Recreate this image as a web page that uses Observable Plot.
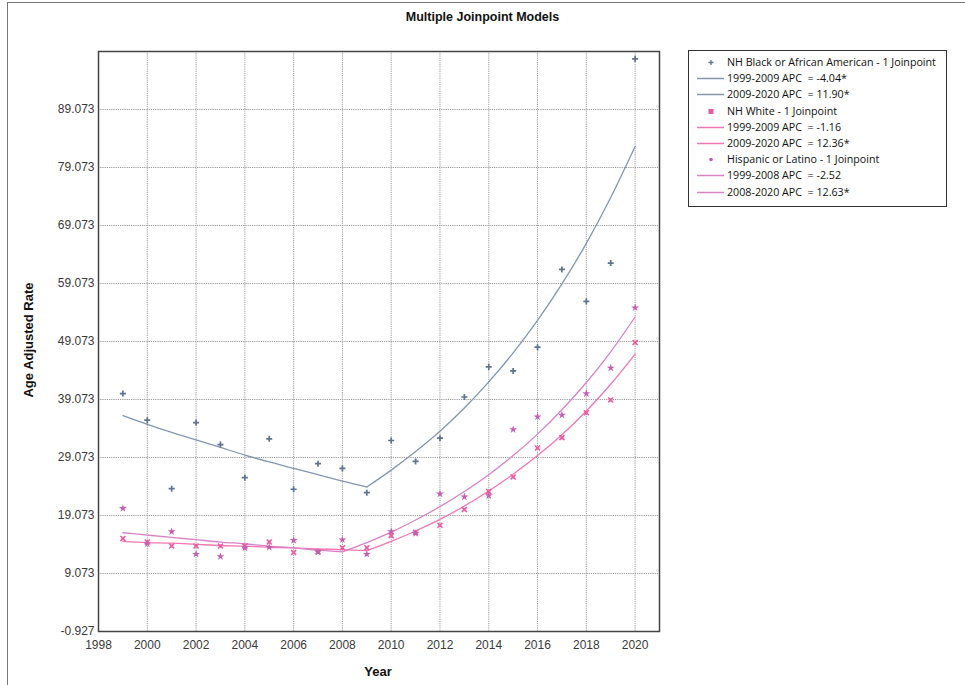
<!DOCTYPE html>
<html>
<head>
<meta charset="utf-8">
<script src="https://cdn.jsdelivr.net/npm/d3@7"></script>
<script src="https://cdn.jsdelivr.net/npm/@observablehq/plot@0.6"></script>
<style>
  html, body { margin: 0; padding: 0; background: #fff; }
  #wrap { position: relative; width: 965px; height: 685px; overflow: hidden; font-family: "Liberation Sans", Arial, sans-serif; }
  #outer { position: absolute; left: 7px; top: 2px; width: 1000px; height: 720px; border-left: 1px solid #777; border-top: 1px solid #777; }
  #title { position: absolute; left: 0; width: 965px; top: 10px; text-align: center; font-weight: bold; font-size: 12.5px; color: #111; }
  #ylab { position: absolute; left: 28px; top: 340px; transform: translate(-50%, -50%) rotate(-90deg); font-weight: bold; font-size: 13px; color: #111; white-space: nowrap; }
  #xlab { position: absolute; left: 378px; top: 671px; transform: translate(-50%, -50%); font-weight: bold; font-size: 13px; color: #111; }
  #legend { position: absolute; left: 688px; top: 50px; width: 257px; height: 155px; border: 1.5px solid #333; background: #fff; }
  .row { position: absolute; left: 0; height: 16px; font-size: 10.7px; color: #111; white-space: pre; font-family: "Open Sans", "Liberation Sans", sans-serif; }
  .row span.t { position: absolute; left: 38px; top: 0; line-height: 16px; }
  .row svg { position: absolute; left: 8px; top: 0; }
  #plot { position: absolute; left: 0; top: 0; }
</style>
</head>
<body>
<div id="wrap">
  <div id="outer"></div>
  <div id="plot"></div>
  <div id="title">Multiple Joinpoint Models</div>
  <div id="ylab">Age Adjusted Rate</div>
  <div id="xlab">Year</div>
  <div id="legend"></div>
</div>
<script>
// ---- data ----
const years = [1999, 2000, 2001, 2002, 2003, 2004, 2005, 2006, 2007, 2008, 2009, 2010, 2011, 2012, 2013, 2014, 2015, 2016, 2017, 2018, 2019, 2020];
const blackObs = [40.1, 35.5, 23.7, 35.1, 31.3, 25.6, 32.3, 23.6, 28.0, 27.2, 23.0, 32.0, 28.4, 32.4, 39.5, 44.7, 44.0, 48.1, 61.5, 56.0, 62.6, 97.8];
const whiteObs = [15.1, 14.5, 13.8, 13.8, 13.8, 13.8, 14.5, 12.7, 12.8, 13.5, 13.5, 15.6, 16.2, 17.4, 20.1, 23.2, 25.7, 30.7, 32.5, 36.8, 39.0, 48.9];
const hispObs = [20.3, 14.2, 16.3, 12.4, 12.0, 13.5, 13.6, 14.8, 12.8, 14.9, 12.4, 16.3, 16.0, 22.8, 22.3, 22.5, 33.9, 36.1, 36.4, 40.1, 44.5, 54.9];

// fitted joinpoint segments (read per year from the drawn curves)
const blackFit1Years = [1999, 2000, 2001, 2002, 2003, 2004, 2005, 2006, 2007, 2008, 2009];
const blackFit1 = [36.3, 34.8, 33.4, 32.1, 30.8, 29.5, 28.3, 27.2, 26.1, 25.0, 24.0];
const blackFit2Years = [2009, 2010, 2011, 2012, 2013, 2014, 2015, 2016, 2017, 2018, 2019, 2020];
const blackFit2 = [24.0, 26.9, 30.1, 33.6, 37.6, 42.1, 47.1, 52.7, 59.0, 66.0, 73.9, 82.7];

const whiteFit1Years = [1999, 2000, 2001, 2002, 2003, 2004, 2005, 2006, 2007, 2008, 2009];
const whiteFit1 = [14.6, 14.4, 14.3, 14.1, 13.9, 13.8, 13.6, 13.5, 13.3, 13.2, 13.0];
const whiteFit2Years = [2009, 2010, 2011, 2012, 2013, 2014, 2015, 2016, 2017, 2018, 2019, 2020];
const whiteFit2 = [13.0, 14.6, 16.4, 18.4, 20.7, 23.3, 26.2, 29.4, 33.0, 37.1, 41.7, 46.9];

const hispFit1Years = [1999, 2000, 2001, 2002, 2003, 2004, 2005, 2006, 2007, 2008];
const hispFit1 = [16.1, 15.7, 15.3, 14.9, 14.5, 14.2, 13.8, 13.5, 13.1, 12.8];
const hispFit2Years = [2008, 2009, 2010, 2011, 2012, 2013, 2014, 2015, 2016, 2017, 2018, 2019, 2020];
const hispFit2 = [12.8, 14.4, 16.2, 18.3, 20.6, 23.2, 26.1, 29.4, 33.1, 37.3, 42.0, 47.3, 53.3];

const xTicks = [1998, 2000, 2002, 2004, 2006, 2008, 2010, 2012, 2014, 2016, 2018, 2020];
const yTicks = [-0.927, 9.073, 19.073, 29.073, 39.073, 49.073, 59.073, 69.073, 79.073, 89.073];

const legendLabels = [
  "NH Black or African American - 1 Joinpoint",
  "1999-2009 APC  = -4.04*",
  "2009-2020 APC  = 11.90*",
  "NH White - 1 Joinpoint",
  "1999-2009 APC  = -1.16",
  "2009-2020 APC  = 12.36*",
  "Hispanic or Latino - 1 Joinpoint",
  "1999-2008 APC  = -2.52",
  "2008-2020 APC  = 12.63*"
];

// ---- styling ----
const C = {
  blackPt: "#5f7390", blackLn: "#8497ad",
  whitePt: "#ec5a9e", whiteLn: "#f377b2",
  hispPt: "#c35eb3", hispLn: "#d883c6"
};

const obs = (arr, series) => years.map((y, i) => ({year: y, v: arr[i], series}));
const fit = (ys, arr, seg) => ys.map((y, i) => ({year: y, v: arr[i], seg}));

const blackPts = obs(blackObs, "black");
const whitePts = obs(whiteObs, "white");
const hispPts = obs(hispObs, "hisp");

const chart = Plot.plot({
  width: 965,
  height: 685,
  marginLeft: 98,
  marginRight: 306,
  marginTop: 51,
  marginBottom: 54,
  x: {domain: [1998, 2021]},
  y: {domain: [-0.927, 99.073]},
  style: {fontFamily: "'Liberation Sans', Arial, sans-serif", fontSize: "12px", color: "#3a3a3a", background: "transparent"},
  marks: [
    Plot.gridX(xTicks, {stroke: "#9a9a9a", strokeOpacity: 1, strokeDasharray: "1.2,1"}),
    Plot.gridY(yTicks, {stroke: "#9a9a9a", strokeOpacity: 1, strokeDasharray: "1.2,1"}),
    Plot.axisX(xTicks, {tickSize: 0, tickPadding: 9, tickFormat: d => String(d), label: null}),
    Plot.axisY(yTicks, {tickSize: 0, tickPadding: 4, tickFormat: d => d.toFixed(3), label: null}),
    // fitted lines
    Plot.line(fit(blackFit1Years, blackFit1, 1), {x: "year", y: "v", stroke: C.blackLn, strokeWidth: 1.3, curve: "monotone-x"}),
    Plot.line(fit(blackFit2Years, blackFit2, 2), {x: "year", y: "v", stroke: C.blackLn, strokeWidth: 1.3, curve: "monotone-x"}),
    Plot.line(fit(whiteFit1Years, whiteFit1, 1), {x: "year", y: "v", stroke: C.whiteLn, strokeWidth: 1.3, curve: "monotone-x"}),
    Plot.line(fit(whiteFit2Years, whiteFit2, 2), {x: "year", y: "v", stroke: C.whiteLn, strokeWidth: 1.3, curve: "monotone-x"}),
    Plot.line(fit(hispFit1Years, hispFit1, 1), {x: "year", y: "v", stroke: C.hispLn, strokeWidth: 1.3, curve: "monotone-x"}),
    Plot.line(fit(hispFit2Years, hispFit2, 2), {x: "year", y: "v", stroke: C.hispLn, strokeWidth: 1.3, curve: "monotone-x"}),
    // observed points
    Plot.dot(blackPts, {x: "year", y: "v", symbol: "plus", r: 2.1, stroke: C.blackPt, strokeWidth: 1.7}),
    Plot.dot(whitePts, {x: "year", y: "v", symbol: "square", r: 2.1, fill: C.whitePt, fillOpacity: 0.45, stroke: "none"}),
    Plot.dot(whitePts, {x: "year", y: "v", symbol: "times", r: 2.4, stroke: C.whitePt, strokeWidth: 1.5}),
    Plot.dot(hispPts, {x: "year", y: "v", symbol: "star", r: 2.5, fill: C.hispPt, stroke: "none"}),
    Plot.frame({stroke: "#444", strokeWidth: 1.5})
  ]
});
document.getElementById("plot").appendChild(chart);

// ---- legend ----
const legendKinds = [
  ["pt", "black"], ["ln", C.blackLn], ["ln", C.blackLn],
  ["pt", "white"], ["ln", C.whiteLn], ["ln", C.whiteLn],
  ["pt", "hisp"], ["ln", C.hispLn], ["ln", C.hispLn]
];
const leg = document.getElementById("legend");
legendLabels.forEach((lab, i) => {
  const row = document.createElement("div");
  row.className = "row";
  row.style.top = (3 + i * 16.2) + "px";
  const [kind, val] = legendKinds[i];
  let sym;
  if (kind === "ln") {
    sym = `<svg width="28" height="16"><line x1="0" x2="27" y1="8.5" y2="8.5" stroke="${val}" stroke-width="1.5"/></svg>`;
  } else if (val === "black") {
    sym = `<svg width="28" height="16"><path d="M14,6V11M11.5,8.5H16.5" stroke="${C.blackPt}" stroke-width="1.3"/></svg>`;
  } else if (val === "white") {
    sym = `<svg width="28" height="16"><rect x="11.5" y="6" width="5" height="5" fill="${C.whitePt}"/></svg>`;
  } else {
    sym = `<svg width="28" height="16"><circle cx="14" cy="8.5" r="1.8" fill="${C.hispPt}"/></svg>`;
  }
  row.innerHTML = sym + `<span class="t">${lab}</span>`;
  leg.appendChild(row);
});
</script>
</body>
</html>
